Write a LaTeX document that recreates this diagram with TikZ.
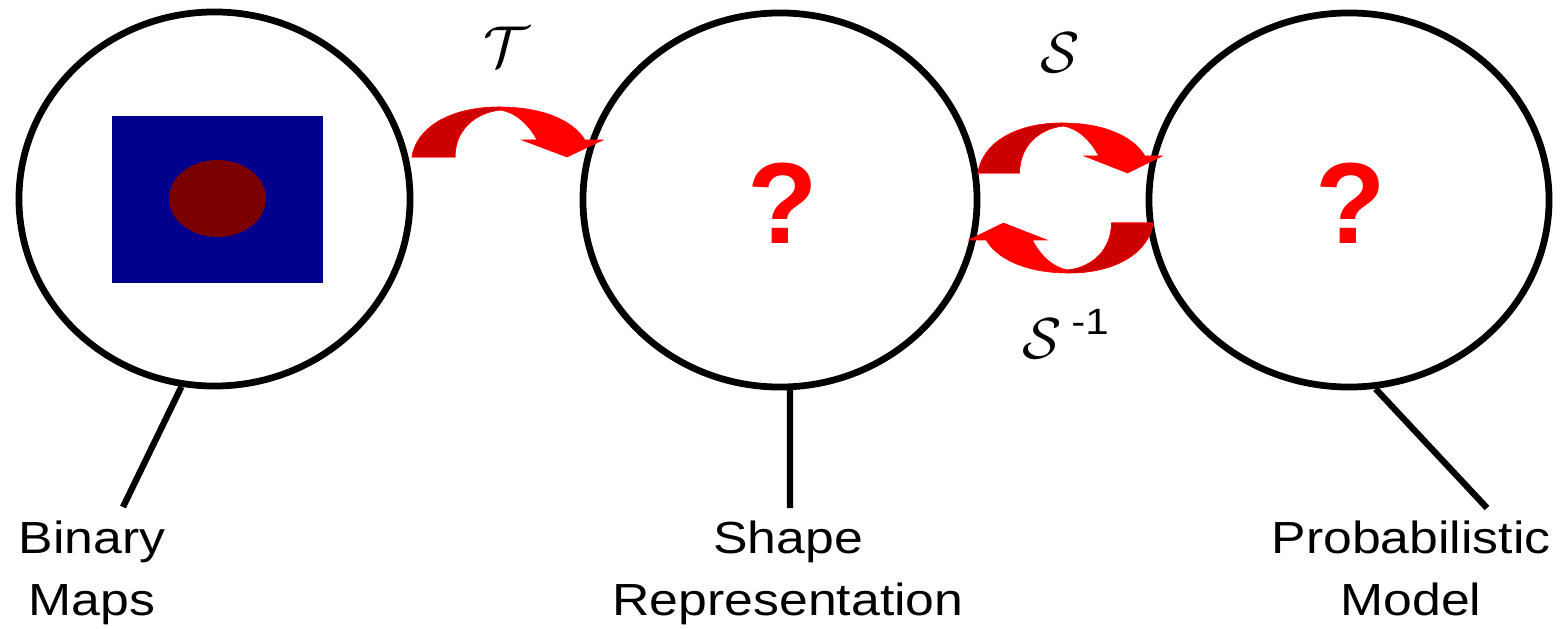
\documentclass[tikz,border=0pt]{standalone}
\usepackage{graphicx}
\usepackage{fontspec}
\setmainfont{Liberation Sans}
\newfontfamily\maplabelfont[FakeStretch=1.15]{Liberation Sans}
\usetikzlibrary{shapes.geometric}
\definecolor{mapink}{HTML}{000000}
\definecolor{mapblue}{HTML}{00008C}
\definecolor{mapblob}{HTML}{7A0000}
\definecolor{arrowdark}{HTML}{CC0000}
\definecolor{arrowbright}{HTML}{FF0000}
\newcommand{\bentpath}{(0,0) .. controls (4,-28) and (36,-50) .. (88,-50)
  .. controls (128,-50) and (160,-38) .. (173,-17) -- (191,-17) -- (155,0)
  -- (110,-17) -- (125,-17) .. controls (116,-34) and (102,-45) .. (88,-47)
  .. controls (62,-44) and (43,-26) .. (43,0) -- cycle}
\newcommand{\mapsym}[1]{\scalebox{1.65}{$\mathcal{#1}$}}
\tikzset{
  mapcircle/.style={draw=mapink,ellipse,line width=4.8pt,inner sep=0pt},
  mapstem/.style={draw=mapink,line width=4.5pt},
  maplabel/.style={font=\maplabelfont\fontsize{32}{44}\selectfont,align=center,anchor=base},
  mapquery/.style={text=arrowbright,font=\bfseries\fontsize{82}{82}\selectfont},
  mapsymbol/.style={font=\fontsize{24.88}{25}\selectfont,inner sep=0pt},
  bentarrow/.pic={
    \fill[arrowbright,draw=arrowbright,line width=0.4pt] \bentpath;
    \begin{scope}
      \clip (-10,-60) rectangle (88,10);
      \fill[arrowdark,draw=arrowbright,line width=0.4pt] \bentpath;
    \end{scope}
  },
}

\begin{document}
\begin{tikzpicture}[x=0.025cm,y=-0.025cm]
  \path[use as bounding box] (0,0) rectangle (1564,629);
  % the three sets
  \node[mapcircle,minimum width=9.775cm,minimum height=9.35cm] (binmap) at (214.5,199) {};
  \node[mapcircle,minimum width=9.85cm,minimum height=9.35cm] (shaperep) at (780,200) {};
  \node[mapcircle,minimum width=10cm,minimum height=9.35cm] (probmodel) at (1349,200) {};
  % binary map sample
  \fill[mapblue] (112,116) rectangle (323,283);
  \fill[mapblob] (217.5,198.5) ellipse [x radius=48.5,y radius=38.5];
  \node[mapquery] (shapeq) at (783,203) {?};
  \node[mapquery] (probq) at (1351,203) {?};
  % mappings
  \pic at (412,157) {bentarrow};
  \pic[xscale=0.965] at (978,173) {bentarrow};
  \pic[xscale=0.965,rotate=180] at (1153,223) {bentarrow};
  \node[mapsymbol] (tmap) at (507,47) {\mapsym{T}};
  \node[mapsymbol] (smap) at (1060,53) {\mapsym{S}};
  \node[mapsymbol,anchor=base west] (sinv) at (1022,358)
    {\mapsym{S}\hspace{7pt}\raisebox{17pt}{\maplabelfont\fontsize{26}{26}\selectfont -1}};
  % labels
  \node[maplabel] (binlabel) at (92,615) {Binary\\Maps};
  \node[maplabel] (shapelabel) at (788,615) {Shape\\Representation};
  \node[maplabel] (problabel) at (1411,615) {Probabilistic\\Model};
  \coordinate (binend) at (123,507);
  \coordinate (shapeend) at (790,508);
  \coordinate (probend) at (1487,508);
  \draw[mapstem] (binmap.-100) -- (binend);
  \draw[mapstem] (shaperep.-87) -- (shapeend);
  \draw[mapstem] (probmodel.-82) -- (probend);
\end{tikzpicture}
\end{document}
